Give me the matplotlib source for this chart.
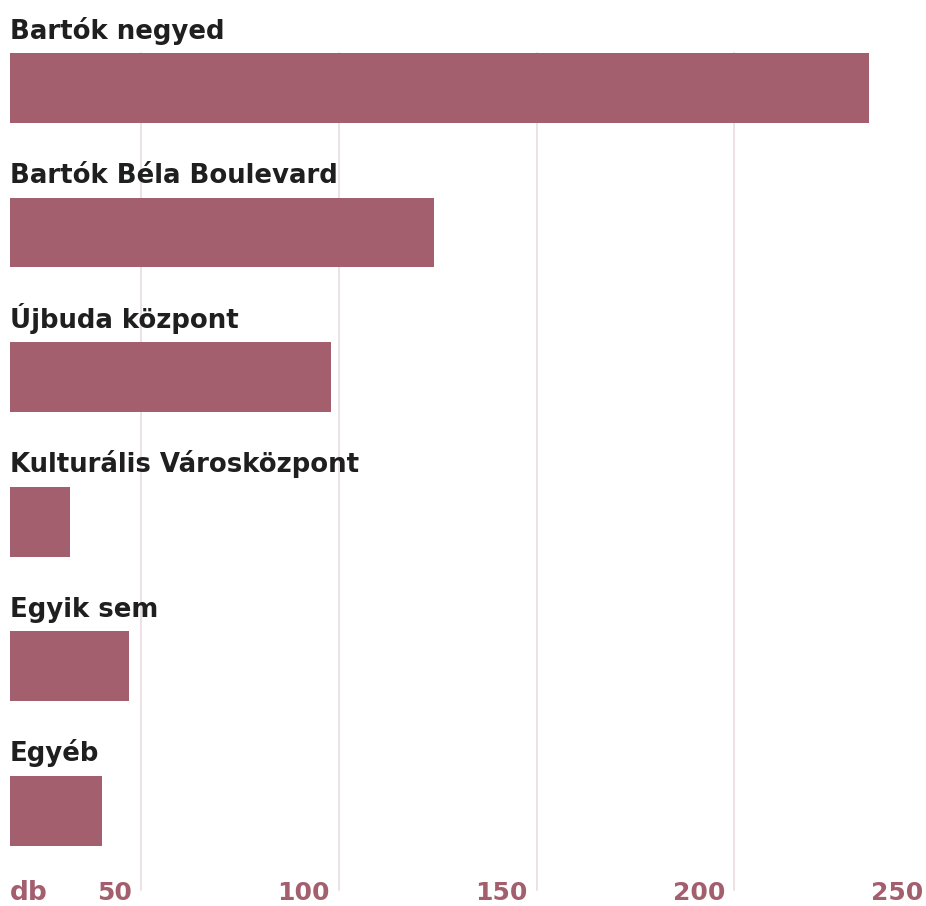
import numpy as np
import matplotlib
matplotlib.use('Agg')
import matplotlib.pyplot as plt
from matplotlib import transforms

categories = ['Bartók negyed', 'Bartók Béla Boulevard', 'Újbuda központ',
              'Kulturális Városközpont', 'Egyik sem', 'Egyéb']
values = [234, 124, 98, 32, 47, 40]
ticks = [50, 100, 150, 200, 250]
unit = 'db'

bar_color = '#a45f6e'
grid_color = '#ead9df'
text_color = '#1f1f1f'

plt.rcParams['font.family'] = ['DejaVu Sans']

W, H = 926, 906
fig = plt.figure(figsize=(W/100., H/100.), dpi=100)
# axes placed in pixel units
left, right, top, bottom = 10, 926, 53, 890
ax = fig.add_axes([left/W, 1-bottom/H, (right-left)/W, (bottom-top)/H])

y = np.arange(len(categories))
bh = 0.482
ax.barh(y, values, height=bh, color=bar_color, zorder=2)

ax.set_xlim(16.8, 248.5)
ax.set_ylim(5.548, -0.243)
for t in ticks:
    ax.axvline(t, color=grid_color, lw=1.1, zorder=1, clip_on=False)

for s in ax.spines.values():
    s.set_visible(False)
ax.set_xticks([])
ax.set_yticks([])

# category labels above each bar
for yi, name in zip(y, categories):
    ax.annotate(name, xy=(0, yi - bh/2), xycoords=('axes fraction', 'data'),
                xytext=(0, 10.5), textcoords='offset points',
                ha='left', va='baseline', fontsize=18.7, fontweight='bold',
                color=text_color, zorder=3)

# value axis labels at the bottom
trans = transforms.blended_transform_factory(ax.transData, fig.transFigure)
trans = transforms.offset_copy(trans, fig=fig, x=-9, y=0, units='dots')
for t in ticks:
    ax.text(t, 1-900./H, str(t), transform=trans, ha='right', va='baseline',
            fontsize=18, fontweight='bold', color=bar_color, clip_on=False)
fig.text(10./W, 1-900./H, unit, ha='left', va='baseline',
         fontsize=19, fontweight='bold', color=bar_color)

fig.savefig('out.png', dpi=100, facecolor='white')
